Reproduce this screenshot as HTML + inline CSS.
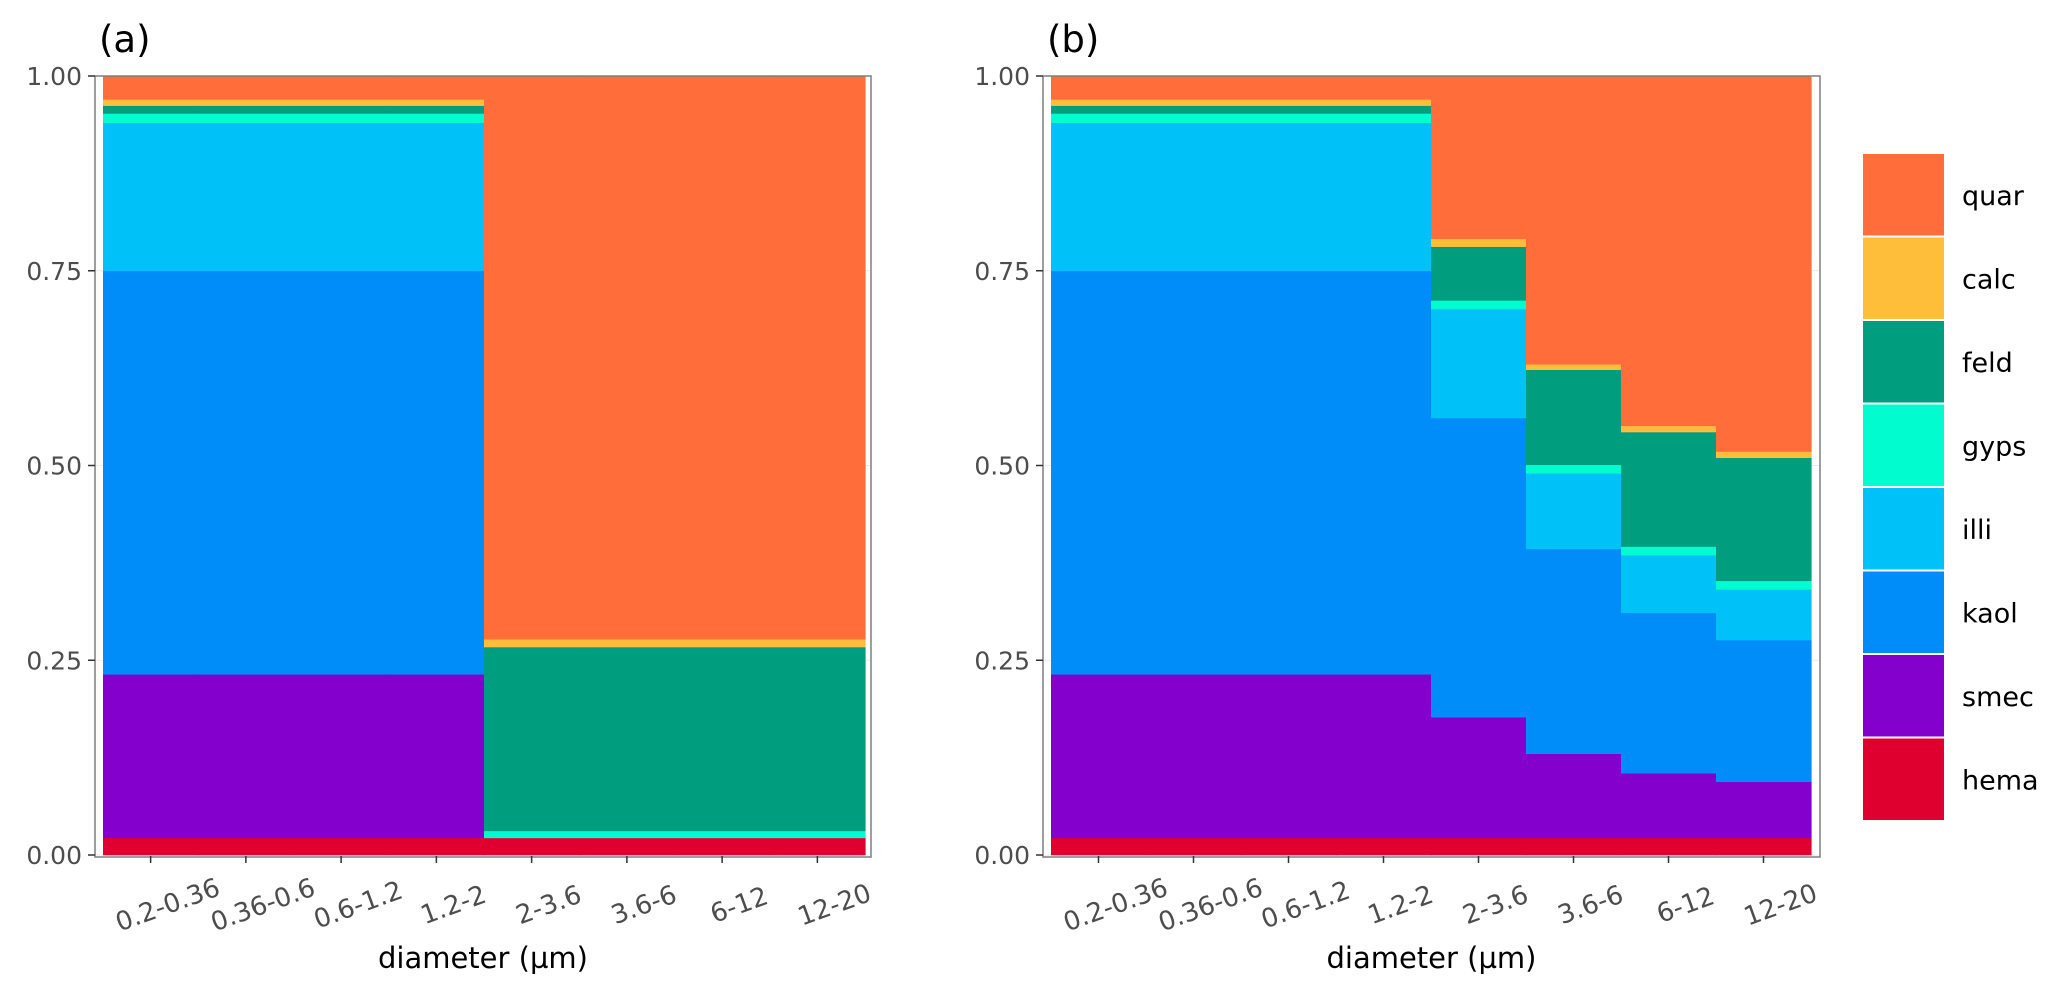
<!DOCTYPE html>
<html><head><meta charset="utf-8">
<style>
html,body{margin:0;padding:0;background:#fff;}
svg{display:block;font-family:"DejaVu Sans","Liberation Sans",sans-serif;}
</style></head>
<body>
<svg id="chart" width="2067" height="993" viewBox="0 0 2067 993" xmlns="http://www.w3.org/2000/svg"></svg>
<script>
const categories = ["0.2-0.36","0.36-0.6","0.6-1.2","1.2-2","2-3.6","3.6-6","6-12","12-20"];
const minerals = ["hema","smec","kaol","illi","gyps","feld","calc","quar"];
const colors = {hema:"#e00030",smec:"#8400cc",kaol:"#008cf9",illi:"#00c2f9",gyps:"#00fccf",feld:"#009e7e",calc:"#ffbe3a",quar:"#ff6d3b"};
const yTicks = [0,0.25,0.5,0.75,1];
const yTickLabels = ["0.00","0.25","0.50","0.75","1.00"];
// panel (a) values per mineral, per category
const aHema = [0.022,0.022,0.022,0.022,0.022,0.022,0.022,0.022];
const aSmec = [0.21,0.21,0.21,0.21,0,0,0,0];
const aKaol = [0.518,0.518,0.518,0.518,0,0,0,0];
const aIlli = [0.19,0.19,0.19,0.19,0,0,0,0];
const aGyps = [0.012,0.012,0.012,0.012,0.009,0.009,0.009,0.009];
const aFeld = [0.01,0.01,0.01,0.01,0.236,0.236,0.236,0.236];
const aCalc = [0.008,0.008,0.008,0.008,0.01,0.01,0.01,0.01];
const aQuar = [0.03,0.03,0.03,0.03,0.723,0.723,0.723,0.723];
// panel (b)
const bHema = [0.022,0.022,0.022,0.022,0.022,0.022,0.022,0.022];
const bSmec = [0.21,0.21,0.21,0.21,0.155,0.108,0.083,0.072];
const bKaol = [0.518,0.518,0.518,0.518,0.384,0.263,0.206,0.182];
const bIlli = [0.19,0.19,0.19,0.19,0.14,0.097,0.074,0.065];
const bGyps = [0.012,0.012,0.012,0.012,0.011,0.011,0.011,0.011];
const bFeld = [0.01,0.01,0.01,0.01,0.069,0.122,0.147,0.158];
const bCalc = [0.008,0.008,0.008,0.008,0.01,0.007,0.008,0.008];
const bQuar = [0.03,0.03,0.03,0.03,0.209,0.37,0.449,0.482];

const NS="http://www.w3.org/2000/svg";
const svg=document.getElementById('chart');
function mk(tag,attrs,parent){const e=document.createElementNS(NS,tag);for(const k in attrs)e.setAttribute(k,attrs[k]);(parent||svg).appendChild(e);return e;}

function panel(id,label,frameL,frameR,barL,barR,series){
  const top=76,bottom=855;
  const g=mk('g',{});
  
  
  const yS=v=>bottom-(bottom-top)*v;
  const bw=(barR-barL)/categories.length;
  const xS=i=>barL+bw*i;
  yTicks.forEach((t,i)=>{
    const gl=mk('line',{x1:frameL,x2:frameR,y1:yS(t),y2:yS(t),stroke:'#ebebeb','stroke-width':1},g);
    
    
  });
  categories.forEach((c,ci)=>{
    let cum=0;
    minerals.forEach((m,mi)=>{
      const v=series[mi][ci];
      if(v<=0)return;
      const r=mk('rect',{x:xS(ci),y:yS(cum+v),width:bw+0.6,height:yS(cum)-yS(cum+v)+0.3,fill:colors[m]},g);
      
      
      cum+=v;
    });
  });
  const fr=mk('rect',{x:frameL,y:top,width:frameR-frameL,height:bottom-top+2,fill:'none',stroke:'#7f7f7f','stroke-width':1.5},g);
  
  
  yTicks.forEach((t,i)=>{
    mk('line',{x1:frameL-7,x2:frameL,y1:yS(t),y2:yS(t),stroke:'#333','stroke-width':1.5},g);
    const tx=mk('text',{x:frameL-13,y:yS(t)+9,'text-anchor':'end','font-size':25,fill:'#4d4d4d'},g);
    tx.textContent=yTickLabels[i];
    
    
  });
  categories.forEach((c,ci)=>{
    const cx=xS(ci)+bw/2;
    mk('line',{x1:cx,x2:cx,y1:bottom+1,y2:bottom+8,stroke:'#333','stroke-width':1.5},g);
    const lx=cx+20, ly=913;
    const tx=mk('text',{x:lx,y:ly,'text-anchor':'middle','font-size':26,fill:'#4d4d4d',transform:'rotate(-20 '+lx+' '+ly+')'},g);
    tx.textContent=c;
    
    
  });
  const xt=mk('text',{x:(frameL+frameR)/2,y:968,'text-anchor':'middle','font-size':29,fill:'#000'},g);
  xt.textContent='diameter (µm)';
  
  
  const pl=mk('text',{x:frameL+4,y:52,'font-size':37,fill:'#000'},g);
  pl.textContent=label;
  
  
}
panel('a','(a)',95,871,103,865,[aHema,aSmec,aKaol,aIlli,aGyps,aFeld,aCalc,aQuar]);
panel('b','(b)',1043,1820,1051,1811,[bHema,bSmec,bKaol,bIlli,bGyps,bFeld,bCalc,bQuar]);

const lg=mk('g',{});


const legendOrder=minerals.slice().reverse();
legendOrder.forEach((m,i)=>{
  const y0=154+i*83.5;
  const r=mk('rect',{x:1863,y:y0,width:81,height:81.5,fill:colors[m]},lg);
  
  
  const t=mk('text',{x:1962,y:y0+51,'font-size':27,fill:'#000'},lg);
  t.textContent=m;
  
  
});
</script>
</body></html>
